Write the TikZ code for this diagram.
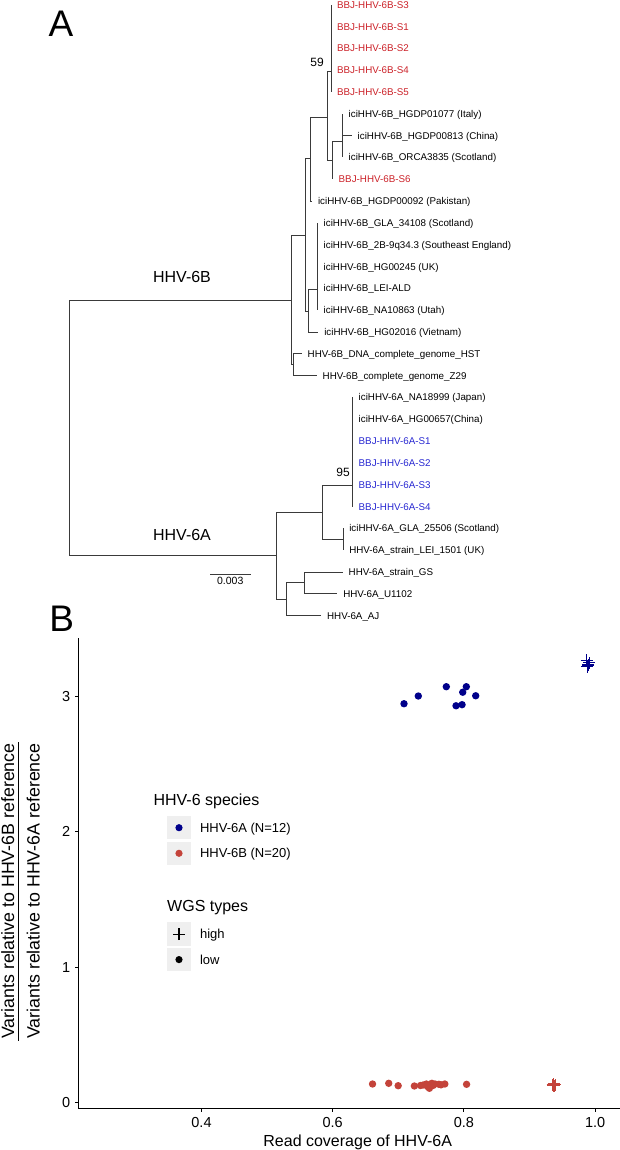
\documentclass[tikz,border=0pt]{standalone}
\usepackage{fontspec}
\setmainfont{Liberation Sans}
\usetikzlibrary{positioning}
\definecolor{speciesA}{HTML}{00008B}
\definecolor{speciesB}{HTML}{C4433A}
\definecolor{tipA}{HTML}{2828D2}
\definecolor{tipB}{HTML}{CC2229}
\definecolor{treeGray}{HTML}{3A3A3A}
\definecolor{keyFill}{HTML}{EFEFEF}
\newcommand{\sizept}[1]{\fontsize{#1}{#1}\selectfont}
\tikzset{
  branch/.style={draw=treeGray, line width=1pt},
  tiplab/.style={anchor=west, inner sep=0pt, outer xsep=6pt,
    text height=7pt, text depth=0pt, font=\sizept{9.8}},
  bootlab/.style={anchor=south east, inner sep=0pt, font=\sizept{12}},
  cladelab/.style={inner sep=0pt, font=\sizept{16}},
  panellab/.style={inner sep=0pt, font=\sizept{37}},
  axisline/.style={draw=black, line width=1.1pt},
  ticklab/.style={inner sep=0pt, font=\sizept{14.5}},
  axistitle/.style={inner sep=0pt, font=\sizept{16}},
  ytitle/.style={inner sep=0pt, rotate=90, anchor=base, font=\sizept{17.8}},
  legtitle/.style={anchor=base west, inner sep=0pt, font=\sizept{16}},
  keybox/.style={fill=keyFill, minimum size=23.3pt, inner sep=0pt},
  keylab/.style={inner sep=0pt, text height=9.3pt, text depth=0pt, font=\sizept{13}},
  plusmark/.style={line width=1.2pt},
}

\begin{document}
\begin{tikzpicture}[x=1pt, y=-1pt]
  \useasboundingbox (0,0) rectangle (620,1150);
  \fill[white] (0,0) rectangle (620,1150);

  % panel A: phylogeny
  \node[panellab] (panelA) at (61,24) {A};
  \begin{scope}[yshift=-4.7pt, y=-21.82pt]
    \coordinate (nRoot) at (69.4,19.4);
    \coordinate (n6B) at (291,13.55);
    \coordinate (nD) at (305,10.57);
    \coordinate (nB) at (310,7.07);
    \coordinate (nC) at (327.4,5.15);
    \coordinate (nH) at (331,3.06);
    \coordinate (nI) at (332.7,7.16);
    \coordinate (nA) at (342.7,6.25);
    \coordinate (nF) at (308.3,14.08);
    \coordinate (nG) at (317.7,13.06);
    \coordinate (nE) at (293.3,16.5);
    \coordinate (n6A) at (276,25.26);
    \coordinate (nL) at (322.7,23.27);
    \coordinate (nN) at (352.7,22.03);
    \coordinate (nO) at (343.3,24.5);
    \coordinate (nM) at (286,27.25);
    \coordinate (nP) at (304,26.5);

    \foreach \i/\x/\c/\lab in {
      0/331/tipB/BBJ-HHV-6B-S3, 1/331/tipB/BBJ-HHV-6B-S1,
      2/331/tipB/BBJ-HHV-6B-S2, 3/331/tipB/BBJ-HHV-6B-S4,
      4/331/tipB/BBJ-HHV-6B-S5,
      5/342.7/black/iciHHV-6B\_HGDP01077 (Italy),
      6/351.7/black/iciHHV-6B\_HGDP00813 (China),
      7/342.7/black/iciHHV-6B\_ORCA3835 (Scotland),
      8/332.7/tipB/BBJ-HHV-6B-S6,
      9/312/black/iciHHV-6B\_HGDP00092 (Pakistan),
      10/317.7/black/iciHHV-6B\_GLA\_34108 (Scotland),
      11/317.7/black/iciHHV-6B\_2B-9q34.3 (Southeast England),
      12/317.7/black/iciHHV-6B\_HG00245 (UK),
      13/317.7/black/iciHHV-6B\_LEI-ALD,
      14/317.7/black/iciHHV-6B\_NA10863 (Utah),
      15/318.3/black/iciHHV-6B\_HG02016 (Vietnam),
      16/301.7/black/HHV-6B\_DNA\_complete\_genome\_HST,
      17/316.7/black/HHV-6B\_complete\_genome\_Z29,
      18/352.7/black/iciHHV-6A\_NA18999 (Japan),
      19/352.7/black/iciHHV-6A\_HG00657(China),
      20/352.7/tipA/BBJ-HHV-6A-S1, 21/352.7/tipA/BBJ-HHV-6A-S2,
      22/352.7/tipA/BBJ-HHV-6A-S3, 23/352.7/tipA/BBJ-HHV-6A-S4,
      24/343.3/black/iciHHV-6A\_GLA\_25506 (Scotland),
      25/343.3/black/HHV-6A\_strain\_LEI\_1501 (UK),
      26/342.7/black/HHV-6A\_strain\_GS,
      27/337.3/black/HHV-6A\_U1102,
      28/321.1/black/HHV-6A\_AJ}
      \node[tiplab, text=\c] (t\i) at (\x,\i) {\lab};

    \foreach \p/\c in {nRoot/n6B, nRoot/n6A, n6B/nD, n6B/nE, nD/nB, nD/nF,
      nB/nC, nB/t9, nC/nH, nC/nI, nH/t0, nH/t1, nH/t2, nH/t3, nH/t4,
      nI/nA, nI/t8, nA/t5, nA/t6, nA/t7, nF/nG, nF/t15,
      nG/t10, nG/t11, nG/t12, nG/t13, nG/t14, nE/t16, nE/t17,
      n6A/nL, n6A/nM, nL/nN, nL/nO, nN/t18, nN/t19, nN/t20, nN/t21,
      nN/t22, nN/t23, nO/t24, nO/t25, nM/nP, nM/t28, nP/t26, nP/t27}
      \draw[branch] (\p) |- (\c);

    \node[bootlab] (boot59) at ([xshift=-7pt, yshift=5pt]nH) {59};
    \node[bootlab] (boot95) at ([xshift=-2.7pt, yshift=8.7pt]nN) {95};
  \end{scope}

  \node[cladelab] (clade6B) at (182,277) {HHV-6B};
  \node[cladelab] (clade6A) at (182,535) {HHV-6A};
  \coordinate (scaleL) at (210,574);
  \coordinate (scaleR) at (250.5,574);
  \draw[branch] (scaleL) -- (scaleR)
    node[midway, below=2.7pt, inner sep=0pt, font=\sizept{10.5}] (scaleLab) {0.003};

  % panel B: scatter
  \node[panellab] (panelB) at (61.6,619) {B};
  \begin{scope}[shift={(-60.9,1102.3)}, x=656pt, y=135.2pt]
    \coordinate (yTop) at (0.2125,3.432);
    \coordinate (origin) at (0.2125,-0.0444);
    \coordinate (xEnd) at (1.05,-0.0444);
    \draw[axisline] (yTop) -- (origin) -- (xEnd);
    \foreach \v in {0,1,2,3}
      \draw[axisline] (0.2125,\v) -- ++(-3.8pt,0)
        node[ticklab, left=4pt] (ytick\v) {\v};
    \foreach \u [count=\k] in {0.4,0.6,0.8,1.0}
      \draw[axisline] (\u,-0.0444) -- ++(0,-4pt)
        node[ticklab, below=5pt] (xtick\k) {\u};

    % HHV-6A, low
    \foreach \u/\v in {0.7087/2.948, 0.7305/3.005, 0.7732/3.074, 0.8037/3.074,
      0.7982/3.033, 0.8180/3.007, 0.7880/2.933, 0.7972/2.941}
      \fill[speciesA] (\u,\v) circle (3.7pt);
    % HHV-6A, high
    \foreach \u/\v in {0.9872/3.268, 0.9912/3.251, 0.9881/3.222, 0.9899/3.234}
      \draw[plusmark, speciesA] (\u,\v) ++(-6pt,0) -- ++(12pt,0)
        ++(-6pt,-6pt) -- ++(0,12pt);
    % HHV-6B, low
    \foreach \u/\v in {0.6607/0.1354, 0.6854/0.1405, 0.6998/0.1228, 0.7245/0.1206,
      0.7338/0.1243, 0.7378/0.1280, 0.7427/0.1354, 0.7445/0.1169,
      0.7474/0.1036, 0.7511/0.1405, 0.7529/0.1243, 0.7559/0.1354,
      0.7619/0.1331, 0.7651/0.1294, 0.7709/0.1354, 0.8041/0.1331}
      \fill[speciesB] (\u,\v) circle (3.7pt);
    % HHV-6B, high
    \foreach \u/\v in {0.9351/0.1280, 0.9373/0.1243, 0.9396/0.1317, 0.9366/0.1354}
      \draw[plusmark, speciesB] (\u,\v) ++(-6pt,0) -- ++(12pt,0)
        ++(-6pt,-6pt) -- ++(0,12pt);
  \end{scope}

  \node[axistitle, anchor=base] (xTitle) at (357.7,1146) {Read coverage of HHV-6A};
  \node[ytitle] (yNum) at (14,891) {Variants relative to HHV-6B reference};
  \node[ytitle] (yDen) at (39.7,891) {Variants relative to HHV-6A reference};
  \coordinate (barTop) at (18.6,742);
  \coordinate (barBot) at (18.6,1041);
  \draw[line width=1pt] (barTop) -- (barBot);

  % legends
  \node[legtitle] (legSpecies) at (153.4,805.5) {HHV-6 species};
  \node[keybox] (keyA) at (179,827.7) {};
  \node[keybox] (keyB) at (179,853.3) {};
  \fill[speciesA] (keyA) circle (3.6pt);
  \fill[speciesB] (keyB) circle (3.6pt);
  \node[keylab, right=9pt of keyA] (labA) {HHV-6A (N=12)};
  \node[keylab, right=9pt of keyB] (labB) {HHV-6B (N=20)};

  \node[legtitle] (legWGS) at (167,911.5) {WGS types};
  \node[keybox] (keyHigh) at (179,934.1) {};
  \node[keybox] (keyLow) at (179,959.6) {};
  \draw[plusmark] (keyHigh.center) ++(-6pt,0) -- ++(12pt,0)
    ++(-6pt,-6pt) -- ++(0,12pt);
  \fill (keyLow) circle (3.6pt);
  \node[keylab, right=9pt of keyHigh] (labHigh) {high};
  \node[keylab, right=9pt of keyLow] (labLow) {low};
\end{tikzpicture}
\end{document}
